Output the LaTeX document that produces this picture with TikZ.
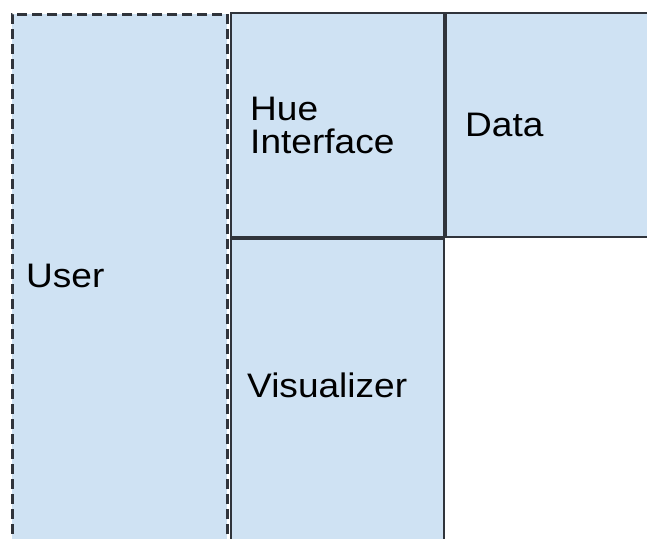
\documentclass[tikz,border=0pt]{standalone}
\usepackage{fontspec}
\setmainfont{Liberation Sans}[FakeStretch=1.09]
\definecolor{boxblue}{HTML}{CFE2F3}
\definecolor{edgegray}{HTML}{30343B}
\tikzset{
  box/.style={draw=edgegray, line width=2pt, fill=boxblue, anchor=north west, inner sep=0pt},
  userbox/.style={box, line width=2.5pt, dash pattern=on 10pt off 5pt},
  lbl/.style={anchor=west, align=left, inner sep=0pt, font=\fontsize{34}{33}\selectfont}
}
\begin{document}
\begin{tikzpicture}[x=1pt,y=-1pt]
  \useasboundingbox (0,0) rectangle (647,538);
  % layers
  \node[userbox, minimum width=215pt, minimum height=545pt] (user) at (11,13) {};
  \node[box, minimum width=213pt, minimum height=224pt] (hue) at (230,12) {};
  \node[box, minimum width=220pt, minimum height=224pt] (data) at (hue.north east) {};
  \node[box, minimum width=213pt, minimum height=320pt] (vis) at (hue.south west) {};
  % labels
  \node[lbl] (userlbl) at (26,276) {User};
  \node[lbl] (huelbl) at (250,125) {Hue\\Interface};
  \node[lbl] (datalbl) at (465,125) {Data};
  \node[lbl] (vislbl) at (247,385) {Visualizer};
\end{tikzpicture}
\end{document}
